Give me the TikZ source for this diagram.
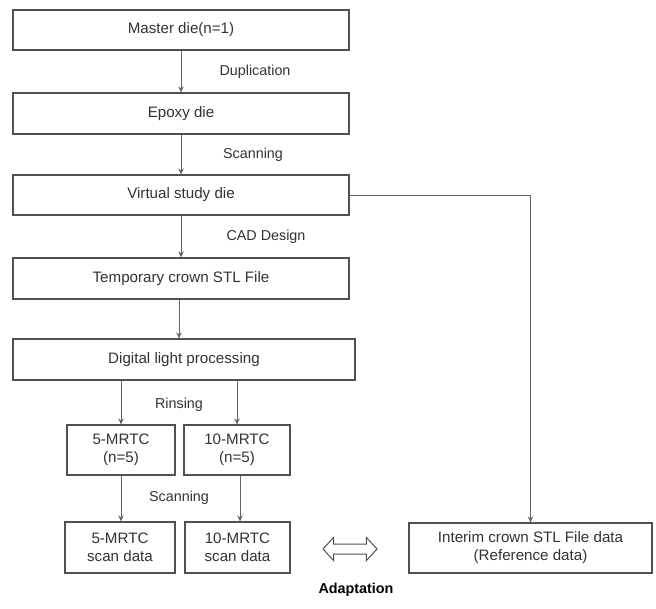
\documentclass[tikz,border=0pt]{standalone}
\usepackage{fontspec}
\setmainfont{Liberation Sans}
\usetikzlibrary{shapes.arrows, arrows.meta}

\definecolor{boxline}{RGB}{80,80,80}
\definecolor{flowline}{RGB}{100,100,100}
\definecolor{txt}{RGB}{50,50,50}

\begin{document}
\begin{tikzpicture}[x=1bp, y=-1bp,
    box/.style={
      rectangle,
      draw=boxline,
      line width=1.2bp,
      text=txt,
      align=center,
      inner sep=0pt,
      font=\fontsize{15.2}{18}\selectfont
    },
    wide/.style={box, minimum width=336bp, minimum height=40bp},
    small/.style={box, minimum width=107bp, minimum height=50bp},
    step label/.style={text=txt, font=\fontsize{14.4}{17}\selectfont},
    flow/.style={->, draw=flowline, line width=1bp},
    >={Stealth[length=6bp, width=5.5bp]}]
  \useasboundingbox (0,0) rectangle (656,609);

  \node[wide] (master) at (181,30) {Master die(n=1)};
  \node[wide, minimum height=41bp] (epoxy) at (181,113.5) {Epoxy die};
  \node[wide] (virtual) at (181,195) {Virtual study die};
  \node[wide, minimum height=41bp] (temp) at (181,278.5) {Temporary crown STL File};
  \node[wide, minimum width=342bp, minimum height=41bp] (dlp) at (184,359.5) {Digital light processing};

  \node[small, minimum width=108bp] (mrtc5) at (121,450) {5-MRTC\\(n=5)};
  \node[small, minimum width=106bp] (mrtc10) at (237,450) {10-MRTC\\(n=5)};
  \node[small, minimum width=110bp, minimum height=51bp] (scan5) at (120,547.5) {5-MRTC\\scan data};
  \node[small, minimum width=105bp, minimum height=51bp] (scan10) at (237.5,547.5) {10-MRTC\\scan data};
  \node[box, minimum width=243bp, minimum height=50bp] (interim) at (530.5,548) {Interim crown STL File data\\(Reference data)};

  \node[double arrow, draw=boxline, line width=1bp, inner sep=0pt,
        text height=4.5bp, text depth=4.5bp, text width=0pt,
        double arrow head extend=6.5bp, double arrow tip angle=95,
        minimum height=54bp] (adapt) at (350,549) {};
  \node[text=black, font=\bfseries\fontsize{14.4}{17}\selectfont] (adapttext) at (356,590) {Adaptation};

  % main column
  \draw[flow] (master) -- (epoxy);
  \draw[flow] (epoxy) -- (virtual);
  \draw[flow] (virtual) -- (temp);
  \draw[flow] (temp.south -| 179,0) -- (179,0 |- dlp.north);
  \draw[flow] (mrtc5.north |- dlp.south) -- (mrtc5.north);
  \draw[flow] (mrtc10.north |- dlp.south) -- (mrtc10.north);
  \draw[flow] (mrtc5) -- (mrtc5 |- scan5.north);
  \draw[flow] (mrtc10.south -| 240,0) -- (240,0 |- scan10.north);
  \draw[flow] (virtual.east) -| (interim.north);

  \node[step label] (dup) at (255,72) {Duplication};
  \node[step label] (scan1) at (253,155) {Scanning};
  \node[step label] (cad) at (266,237) {CAD Design};
  \node[step label] (rinse) at (179,405) {Rinsing};
  \node[step label] (scan2) at (179,498) {Scanning};
\end{tikzpicture}
\end{document}
